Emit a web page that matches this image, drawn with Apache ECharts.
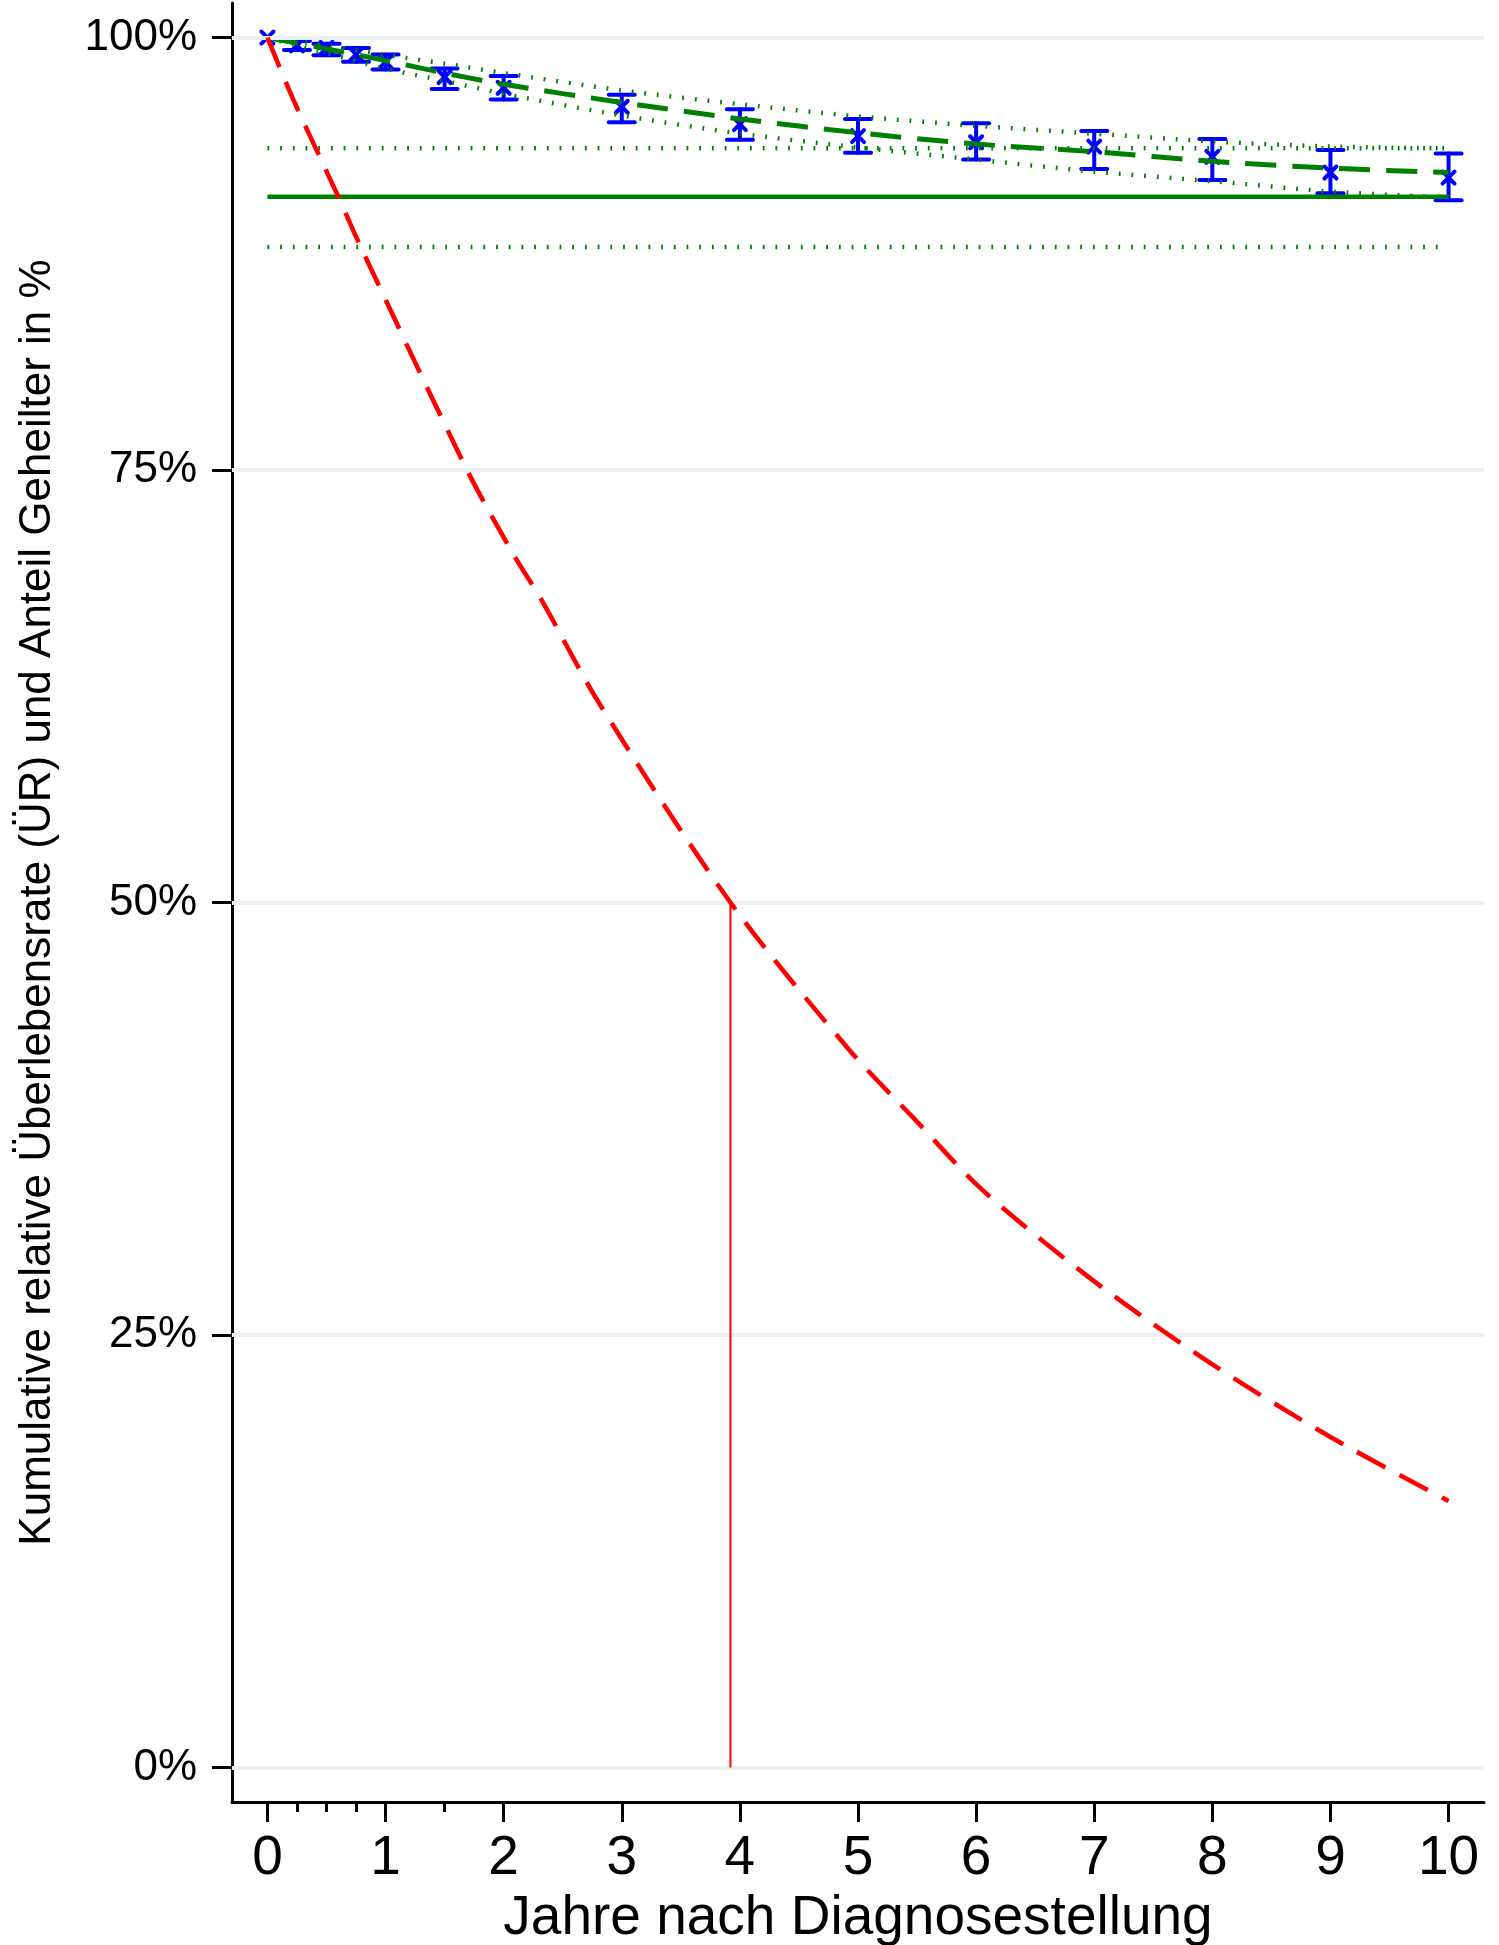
<!DOCTYPE html>
<html><head><meta charset="utf-8">
<script src="https://cdn.jsdelivr.net/npm/echarts@6/dist/echarts.min.js"></script>
<style>html,body{margin:0;padding:0;background:#fff}#c{width:1499px;height:1945px}</style>
</head><body><div id="c"></div>
<script>
// ---- axes ----
const xTicks = [0,1,2,3,4,5,6,7,8,9,10];
const xMinorTicks = [0.25,0.5,0.75,1.5];
const yTicks = [0,25,50,75,100];

// ---- observed cumulative relative survival (blue x with CI) ----
const obsYears = [0,0.25,0.5,0.75,1,1.5,2,3,4,5,6,7,8,9,10];
const obsRS = [100,99.55,99.4,99.03,98.6,97.72,97.1,96.0,95.0,94.3,93.95,93.7,93.1,92.2,91.9];
const obsLo = [100,99.28,98.98,98.6,98.16,97.03,96.42,95.1,94.1,93.35,92.95,92.4,91.77,91.0,90.6];
const obsHi = [100,99.8,99.65,99.4,99.03,98.22,97.78,96.7,95.86,95.3,95.05,94.6,94.14,93.5,93.3];

// ---- fitted cure model relative survival (green dashed) and CI (green dotted) ----
const modelYears = [0,0.5,1,1.5,2,3,4,5,6,7,8,9,10];
const modelRS = [100,99.35,98.67,97.95,97.3,96.25,95.3,94.5,93.85,93.4,92.85,92.45,92.2];
const modelLo = [100,99.1,98.2,97.5,96.75,95.5,94.45,93.65,92.95,92.25,91.7,91.1,90.75];
const modelHi = [100,99.55,99.0,98.5,97.95,96.95,96.15,95.45,94.9,94.45,94.0,93.7,93.6];

// ---- cure fraction (green solid) and its CI (green dotted) ----
const cureYears = [0,10];
const cureFrac = 90.8;
const cureLo = 87.9;
const cureHi = 93.6;

// ---- survival of uncured (red dashed) and median (red vertical) ----
const redYears = [0,0.22,0.6,0.79,1.69,2.08,2.32,2.81,3.92,4.93,5.49,6.05,7,8,9,10];
const redVals  = [100,96.4,90.8,87.9,75,70.15,67.5,61.5,50,41.45,37.4,33.4,28.1,23.3,19.1,15.4];
const medianYear = 3.92;
const medianLevel = 50;

const FONT = "'Liberation Sans', Arial, Helvetica, sans-serif";
const GREEN = '#008000', BLUE = '#0000ff', RED = '#ff0000';

const zip = (xs, ys) => xs.map((x,i)=>[x,ys[i]]);
const flat = (xs, v) => xs.map(x=>[x,v]);

const chart = echarts.init(document.getElementById('c'), null, {renderer:'canvas'});
const option = {
  animation: false,
  backgroundColor: '#ffffff',
  grid: {left:232, right:15, top:3, bottom:143, containLabel:false, outerBoundsMode:'none'},
  xAxis: [{
    type:'value', min:-0.3, max:10.3, position:'bottom',
    name:'Jahre nach Diagnosestellung', nameLocation:'middle', nameGap:87,
    nameTextStyle:{fontFamily:FONT, fontSize:55, color:'#000'},
    axisLine:{show:true, onZero:false, lineStyle:{color:'#000', width:3}},
    axisTick:{show:true, customValues:xTicks, length:20, inside:false, lineStyle:{color:'#000', width:3}},
    axisLabel:{show:true, customValues:xTicks, margin:29, fontFamily:FONT, fontSize:55, color:'#000'},
    splitLine:{show:false}
  },{
    type:'value', min:-0.3, max:10.3, position:'bottom',
    axisLine:{show:false, onZero:false},
    axisTick:{show:true, customValues:xMinorTicks, length:10, inside:false, lineStyle:{color:'#000', width:3}},
    axisLabel:{show:false},
    splitLine:{show:false}
  }],
  yAxis: {
    type:'value', min:-2, max:102,
    name:'Kumulative relative Überlebensrate (ÜR) und Anteil Geheilter in %',
    nameLocation:'middle', nameGap:172,
    nameTextStyle:{fontFamily:FONT, fontSize:44, color:'#000'},
    axisLine:{show:true, onZero:false, lineStyle:{color:'#000', width:3}},
    axisTick:{show:true, customValues:yTicks, length:20, lineStyle:{color:'#000', width:3}},
    axisLabel:{show:true, customValues:yTicks, margin:35, fontFamily:FONT, fontSize:44, color:'#000',
      formatter: v => v + '%'},
    splitLine:{show:false}
  },
  series: [
    { // gridlines
      type:'line', data:[], silent:true, z:1,
      markLine:{silent:true, symbol:'none', label:{show:false},
        lineStyle:{color:'#eaf0f3', width:4, type:'solid'},
        data: yTicks.map(v=>({yAxis:v}))}
    },
    { // observed RS with CI
      type:'custom', z:2, silent:true,
      data: obsYears.map((t,i)=>[t, obsRS[i], obsLo[i], obsHi[i]]),
      encode:{x:0, y:[1,2,3]},
      renderItem:(params, api)=>{
        const t=api.value(0), p=api.value(1), lo=api.value(2), hi=api.value(3);
        const c=api.coord([t,p]), cl=api.coord([t,lo]), chh=api.coord([t,hi]);
        const st={stroke:BLUE, lineWidth:4, lineCap:'round'};
        const kids=[];
        if (hi > lo) {
          const w=13;
          kids.push({type:'line', shape:{x1:c[0], y1:chh[1], x2:c[0], y2:cl[1]}, style:st});
          kids.push({type:'line', shape:{x1:c[0]-w, y1:chh[1], x2:c[0]+w, y2:chh[1]}, style:st});
          kids.push({type:'line', shape:{x1:c[0]-w, y1:cl[1], x2:c[0]+w, y2:cl[1]}, style:st});
        }
        const m=6, ms={stroke:BLUE, lineWidth:4, lineCap:'round'};
        kids.push({type:'line', shape:{x1:c[0]-m, y1:c[1]-m, x2:c[0]+m, y2:c[1]+m}, style:ms});
        kids.push({type:'line', shape:{x1:c[0]-m, y1:c[1]+m, x2:c[0]+m, y2:c[1]-m}, style:ms});
        return {type:'group', children:kids};
      }
    },
    { type:'line', z:3, symbol:'none', silent:true, data: flat(cureYears, cureHi),
      lineStyle:{color:GREEN, width:4.5, type:[1.8,10.9], cap:'butt'} },
    { type:'line', z:3, symbol:'none', silent:true, data: flat(cureYears, cureLo),
      lineStyle:{color:GREEN, width:4.5, type:[1.8,10.9], cap:'butt'} },
    { type:'line', z:3, symbol:'none', silent:true, data: flat(cureYears, cureFrac),
      lineStyle:{color:GREEN, width:4.5, type:'solid'} },
    { type:'line', z:3, symbol:'none', silent:true, smooth:0.3, data: zip(modelYears, modelHi),
      lineStyle:{color:GREEN, width:4.5, type:[1.8,10.9], cap:'butt'} },
    { type:'line', z:3, symbol:'none', silent:true, smooth:0.3, data: zip(modelYears, modelLo),
      lineStyle:{color:GREEN, width:4.5, type:[1.8,10.9], cap:'butt'} },
    { type:'line', z:4, symbol:'none', silent:true, smooth:0.3, data: zip(modelYears, modelRS),
      lineStyle:{color:GREEN, width:5, type:[31,16]} },
    { type:'line', z:5, symbol:'none', silent:true, smooth:0.3, data: zip(redYears, redVals),
      lineStyle:{color:RED, width:4.6, type:[32,16]} },
    { type:'line', z:5, symbol:'none', silent:true, data: [[medianYear, medianLevel],[medianYear, 0]],
      lineStyle:{color:RED, width:2, type:'solid'} }
  ]
};
chart.setOption(option);
</script>
</body></html>
